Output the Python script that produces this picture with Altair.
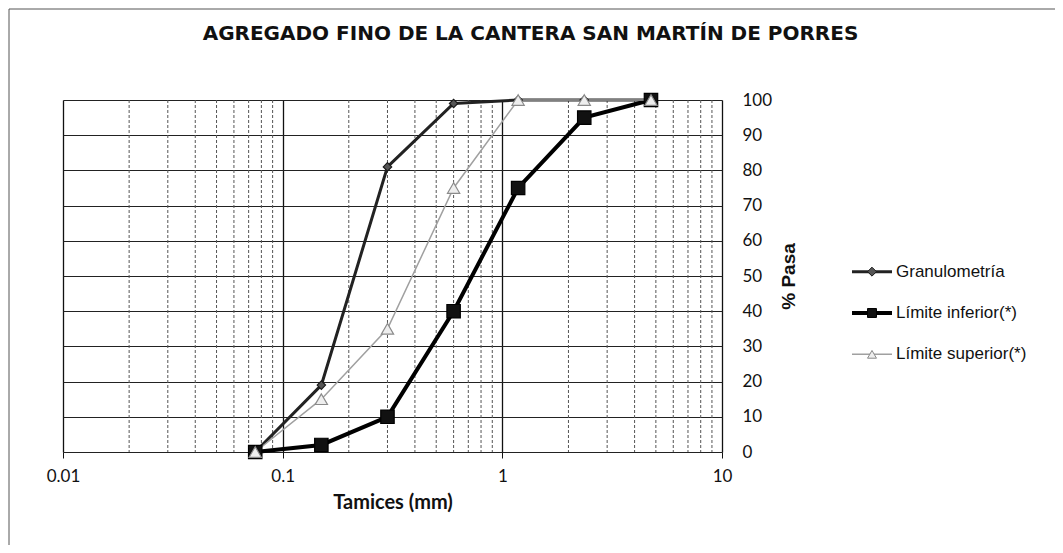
import altair as alt
import pandas as pd

# ---------------- data ----------------
sizes = [4.75, 2.36, 1.18, 0.6, 0.3, 0.15, 0.075]
granulometria = [100, 100, 100, 99, 81, 19, 0]
limite_inferior = [100, 95, 75, 40, 10, 2, 0]
limite_superior = [100, 100, 100, 75, 35, 15, 0]
series = ["Granulometría", "Límite inferior(*)", "Límite superior(*)"]
x_major = [0.01, 0.1, 1, 10]
x_minor = [0.02, 0.03, 0.04, 0.05, 0.06, 0.07, 0.08, 0.09,
           0.2, 0.3, 0.4, 0.5, 0.6, 0.7, 0.8, 0.9,
           2, 3, 4, 5, 6, 7, 8, 9]
y_ticks = [0, 10, 20, 30, 40, 50, 60, 70, 80, 90, 100]

rows = []
for name, vals in zip(series, [granulometria, limite_inferior, limite_superior]):
    for s, v in zip(sizes, vals):
        rows.append({"serie": name, "tamiz": s, "pasa": v})
df = pd.DataFrame(rows)
minor_df = pd.DataFrame({"v": x_minor})
leg_df = pd.DataFrame({"serie": series})
frame_df = pd.DataFrame({"k": [0]})

# ---------------- layout ----------------
W, H = 659, 352
PAD_L, PAD_T = 55, 92
PAD_R = 1047 - PAD_L - W
PAD_B = 537 - PAD_T - H

xscale = alt.Scale(type="log", domain=[0.01, 10], nice=False)
yscale = alt.Scale(domain=[0, 100], nice=False, zero=True)

x_axis = alt.Axis(values=x_major, format="~g", title="Tamices  (mm)",
                  grid=True, gridColor="#111111", gridWidth=1.3,
                  domain=False, ticks=True, tickSize=6, tickColor="#111",
                  labelFont="Lato", labelFontSize=17, labelColor="#111",
                  labelPadding=10, labelFlush=False,
                  titleFont="Lato", titleFontSize=20, titleFontWeight="bold",
                  titleColor="#111", titlePadding=8)
y_axis = alt.Axis(values=y_ticks, orient="right", title="% Pasa",
                  grid=True, gridColor="#222222", gridWidth=1.2,
                  domain=False, ticks=False,
                  labelFont="Lato", labelFontSize=17, labelColor="#111",
                  labelPadding=20, labelAlign="left",
                  titleFont="Liberation Sans", titleFontSize=19,
                  titleFontWeight="bold", titleColor="#111",
                  titleAngle=270, titlePadding=27)

X = alt.X("tamiz:Q", scale=xscale, axis=x_axis)
Y = alt.Y("pasa:Q", scale=yscale, axis=y_axis)

color_scale = alt.Scale(domain=series, range=["#222222", "#000000", "#a0a0a0"])
width_scale = alt.Scale(type="ordinal", domain=series, range=[3.0, 4.0, 1.5])
shape_scale = alt.Scale(domain=series, range=["diamond", "square", "triangle-up"])
size_scale = alt.Scale(type="ordinal", domain=series, range=[70, 180, 150])
fill_scale = alt.Scale(domain=series, range=["#555555", "#111111", "#eeeeee"])
stroke_scale = alt.Scale(domain=series, range=["#1a1a1a", "#000000", "#8a8a8a"])

minor_grid = alt.Chart(minor_df).mark_rule(
    color="#555555", strokeWidth=1, strokeDash=[3, 2]
).encode(x=alt.X("v:Q", scale=xscale, axis=x_axis))

lines = alt.Chart(df).mark_line().encode(
    x=X, y=Y,
    color=alt.Color("serie:N", scale=color_scale, legend=None),
    strokeWidth=alt.StrokeWidth("serie:N", scale=width_scale, legend=None),
)

points = alt.Chart(df).mark_point(opacity=1, fillOpacity=1, strokeWidth=1.2).encode(
    x=X, y=Y,
    shape=alt.Shape("serie:N", scale=shape_scale, legend=None),
    size=alt.Size("serie:N", scale=size_scale, legend=None),
    fill=alt.Fill("serie:N", scale=fill_scale, legend=None),
    stroke=alt.Stroke("serie:N", scale=stroke_scale, legend=None),
)

main = alt.layer(minor_grid, lines, points)

# ---------------- custom legend ----------------
leg_y = alt.Y("serie:N", sort=series, axis=None,
              scale=alt.Scale(range=[151, 275], padding=0))

leg_line = alt.Chart(leg_df).mark_rule().encode(
    y=leg_y, x=alt.value(789), x2=alt.value(829),
    color=alt.Color("serie:N", scale=color_scale, legend=None),
    strokeWidth=alt.StrokeWidth("serie:N", scale=width_scale, legend=None),
)
leg_point = alt.Chart(leg_df).mark_point(opacity=1, fillOpacity=1, strokeWidth=1).encode(
    y=leg_y, x=alt.value(809),
    shape=alt.Shape("serie:N", scale=shape_scale, legend=None),
    size=alt.value(80),
    fill=alt.Fill("serie:N", scale=fill_scale, legend=None),
    stroke=alt.Stroke("serie:N", scale=stroke_scale, legend=None),
)
leg_text = alt.Chart(leg_df).mark_text(
    align="left", baseline="middle", font="Liberation Sans",
    fontSize=17, color="#111"
).encode(y=leg_y, x=alt.value(833), text="serie:N")

frame = alt.Chart(frame_df).mark_rect(
    fill=None, stroke="#555555", strokeWidth=1
).encode(x=alt.value(-54), x2=alt.value(1010), y=alt.value(-91), y2=alt.value(470))

legend = alt.layer(leg_line, leg_point, leg_text, frame)

chart = alt.layer(main, legend).resolve_scale(y="independent").properties(
    width=W, height=H,
    autosize=alt.AutoSizeParams(type="none"),
    padding={"left": PAD_L, "top": PAD_T, "right": PAD_R, "bottom": PAD_B},
    title=alt.TitleParams(
        "AGREGADO FINO DE LA CANTERA SAN MARTÍN DE PORRES",
        font="DejaVu Sans", fontSize=20, fontWeight="bold", color="#111",
        anchor="middle", frame="group", dx=138, offset=-35,
    ),
).configure_view(stroke="#111111", strokeWidth=1.5).configure(background="white")

chart.save("out.html", embed_options={"renderer": "svg", "actions": False})
